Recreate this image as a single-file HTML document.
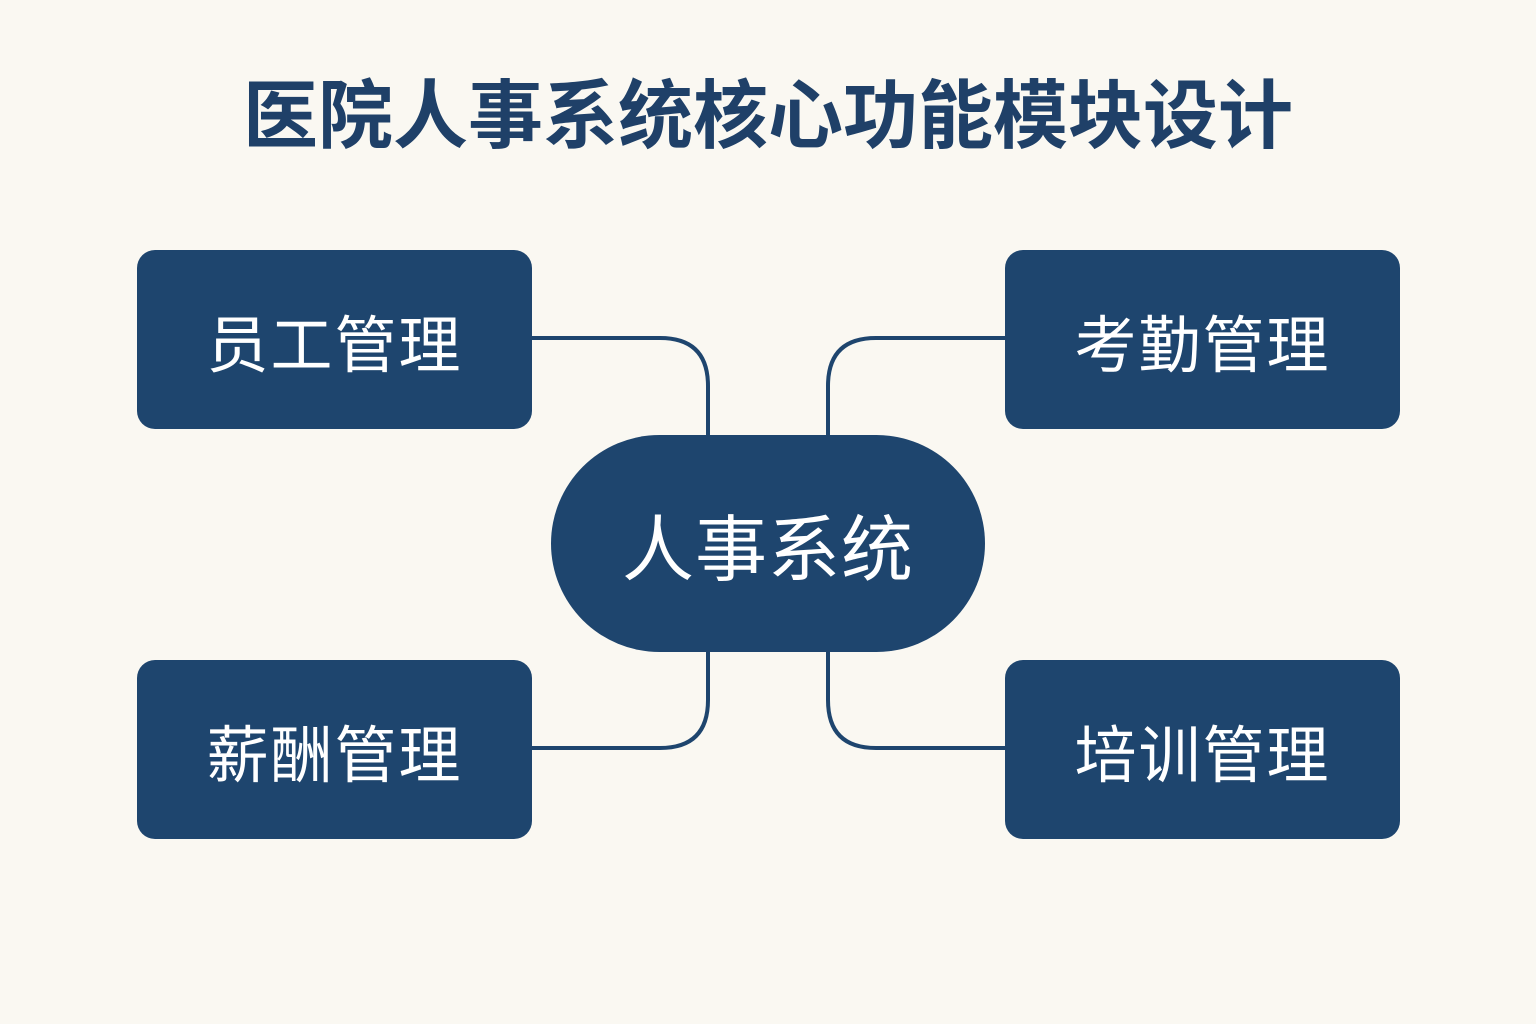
<!DOCTYPE html>
<html><head><meta charset="utf-8"><style>
html,body{margin:0;padding:0}
body{width:1536px;height:1024px;background:#faf8f2;position:relative;overflow:hidden;font-family:"Liberation Sans","Noto Sans CJK SC",sans-serif}
.t{position:absolute;left:0;width:1536px;top:70px;text-align:center;font-size:75px;font-weight:bold;color:#1f4068;line-height:92px}
.b{position:absolute;width:395px;height:179px;background:#1e456e;border-radius:18px;color:#fff;font-size:62px;display:flex;align-items:center;justify-content:center;letter-spacing:2px}
.c{position:absolute;left:551px;top:435px;width:434px;height:217px;border-radius:109px;background:#1e456e;color:#fff;font-size:72px;display:flex;align-items:center;justify-content:center;letter-spacing:1px}
svg{position:absolute;left:0;top:0}
</style></head><body>
<div class="t">医院人事系统核心功能模块设计</div>
<svg width="1536" height="1024"><g fill="none" stroke="#1e456e" stroke-width="4">
<path d="M532 338 H660 Q708 338 708 386 V440"/>
<path d="M1005 338 H876 Q828 338 828 386 V440"/>
<path d="M708 648 V700 Q708 748 660 748 H532"/>
<path d="M828 648 V700 Q828 748 876 748 H1005"/>
</g></svg>
<div class="b" style="left:137px;top:250px">员工管理</div>
<div class="b" style="left:1005px;top:250px">考勤管理</div>
<div class="b" style="left:137px;top:660px">薪酬管理</div>
<div class="b" style="left:1005px;top:660px">培训管理</div>
<div class="c">人事系统</div>
</body></html>
